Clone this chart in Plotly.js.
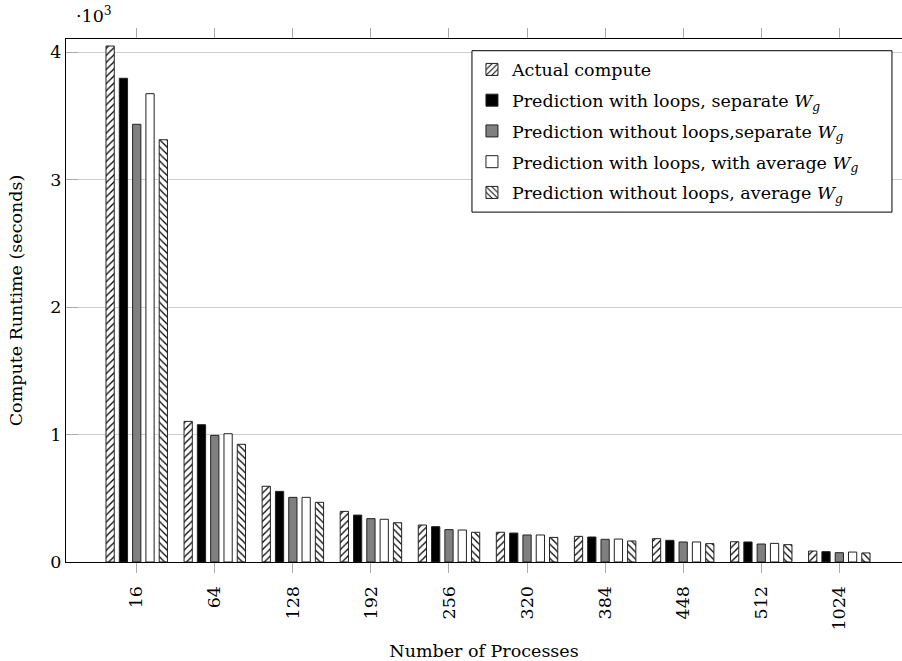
<!DOCTYPE html>
<html>
<head>
<meta charset="utf-8">
<script src="https://cdn.plot.ly/plotly-3.0.1.min.js"></script>
<style>
html,body{margin:0;padding:0;background:#fff;overflow:hidden;}
#chart{width:902px;height:661px;}
</style>
</head>
<body>
<div id="chart"></div>
<script>
const processes = ['16','64','128','192','256','320','384','448','512','1024'];
const actualCompute = [4047, 1103, 594, 397, 290, 233, 201, 183, 159, 86];
const predLoopsSeparate = [3794, 1077, 554, 368, 277, 227, 196, 170, 157, 81];
const predNoLoopsSeparate = [3433, 993, 507, 340, 254, 212, 178, 157, 141, 73];
const predLoopsAverage = [3673, 1006, 507, 335, 251, 212, 180, 157, 146, 78];
const predNoLoopsAverage = [3312, 923, 468, 308, 233, 193, 165, 144, 136, 71];
const seriesNames = [
  'Actual compute',
  'Prediction with loops, separate <i>W<sub>g</sub></i>',
  'Prediction without loops,separate <i>W<sub>g</sub></i>',
  'Prediction with loops, with average <i>W<sub>g</sub></i>',
  'Prediction without loops, average <i>W<sub>g</sub></i>'
];
const yTickVals = [0, 1000, 2000, 3000, 4000];
const yTickText = ['0', '1', '2', '3', '4'];

const FONT = "'DejaVu Serif', serif";
const FS = 17.5;
const series = [actualCompute, predLoopsSeparate, predNoLoopsSeparate, predLoopsAverage, predNoLoopsAverage];
const fills = ['#ffffff', '#000000', '#808080', '#ffffff', '#ffffff'];
const patterns = ['/', '', '', '', '\\'];

const traces = series.map((vals, i) => ({
  type: 'bar',
  x: processes,
  y: vals,
  name: seriesNames[i],
  legendgroup: 'g' + i,
  marker: {
    color: fills[i],
    line: {color: '#222', width: 1},
    pattern: patterns[i] ? {shape: patterns[i], fgcolor: '#000', bgcolor: '#fff', size: 5, solidity: 0.25} : {shape: ''}
  },
  hoverinfo: 'skip'
}));

const layout = {
  width: 902, height: 661,
  margin: {l: 66, r: 0, t: 39, b: 99},
  paper_bgcolor: '#fff', plot_bgcolor: '#fff',
  font: {family: FONT, size: FS, color: '#000'},
  barmode: 'group',
  bargap: 0.148,
  bargroupgap: 0.38,
  showlegend: true,
  legend: {
    x: 0.4856, y: 0.976, xanchor: 'left', yanchor: 'top',
    bgcolor: 'rgba(0,0,0,0)', borderwidth: 0,
    font: {family: FONT, size: FS, color: '#000'},
    traceorder: 'grouped', tracegroupgap: 5
  },
  shapes: [{
    type: 'rect', xref: 'paper', yref: 'paper',
    x0: 0.4856, x1: 0.988, y0: 0.669, y1: 0.9776,
    line: {color: '#000', width: 1}, fillcolor: '#fff', layer: 'above'
  }],
  xaxis: {
    type: 'category',
    range: [-0.906, 9.803],
    showline: true, linecolor: '#000', linewidth: 1,
    mirror: 'ticks',
    ticks: 'outside', ticklen: 10, tickcolor: '#aaa', tickwidth: 1,
    tickangle: -90,
    ticklabelstandoff: 6,
    tickfont: {family: FONT, size: FS},
    showgrid: false, zeroline: false,
    title: {text: 'Number of Processes', font: {family: FONT, size: FS}, standoff: 20}
  },
  yaxis: {
    range: [0, 4102],
    tickvals: yTickVals, ticktext: yTickText,
    showline: true, linecolor: '#000', linewidth: 1,
    ticks: 'inside', ticklen: 12, tickcolor: '#aaa',
    showgrid: true, gridcolor: '#cfcfcf', gridwidth: 1,
    zeroline: false,
    tickfont: {family: FONT, size: FS},
    title: {text: 'Compute Runtime (seconds)', font: {family: FONT, size: FS}, standoff: 23}
  },
  annotations: [{
    xref: 'paper', yref: 'paper', x: 0.01, y: 1.0, yshift: 24,
    xanchor: 'left', yanchor: 'middle', showarrow: false,
    text: '·10<sup>3</sup>', font: {family: FONT, size: FS}
  }]
};

Plotly.newPlot('chart', traces, layout, {staticPlot: true, displayModeBar: false});
</script>
</body>
</html>
